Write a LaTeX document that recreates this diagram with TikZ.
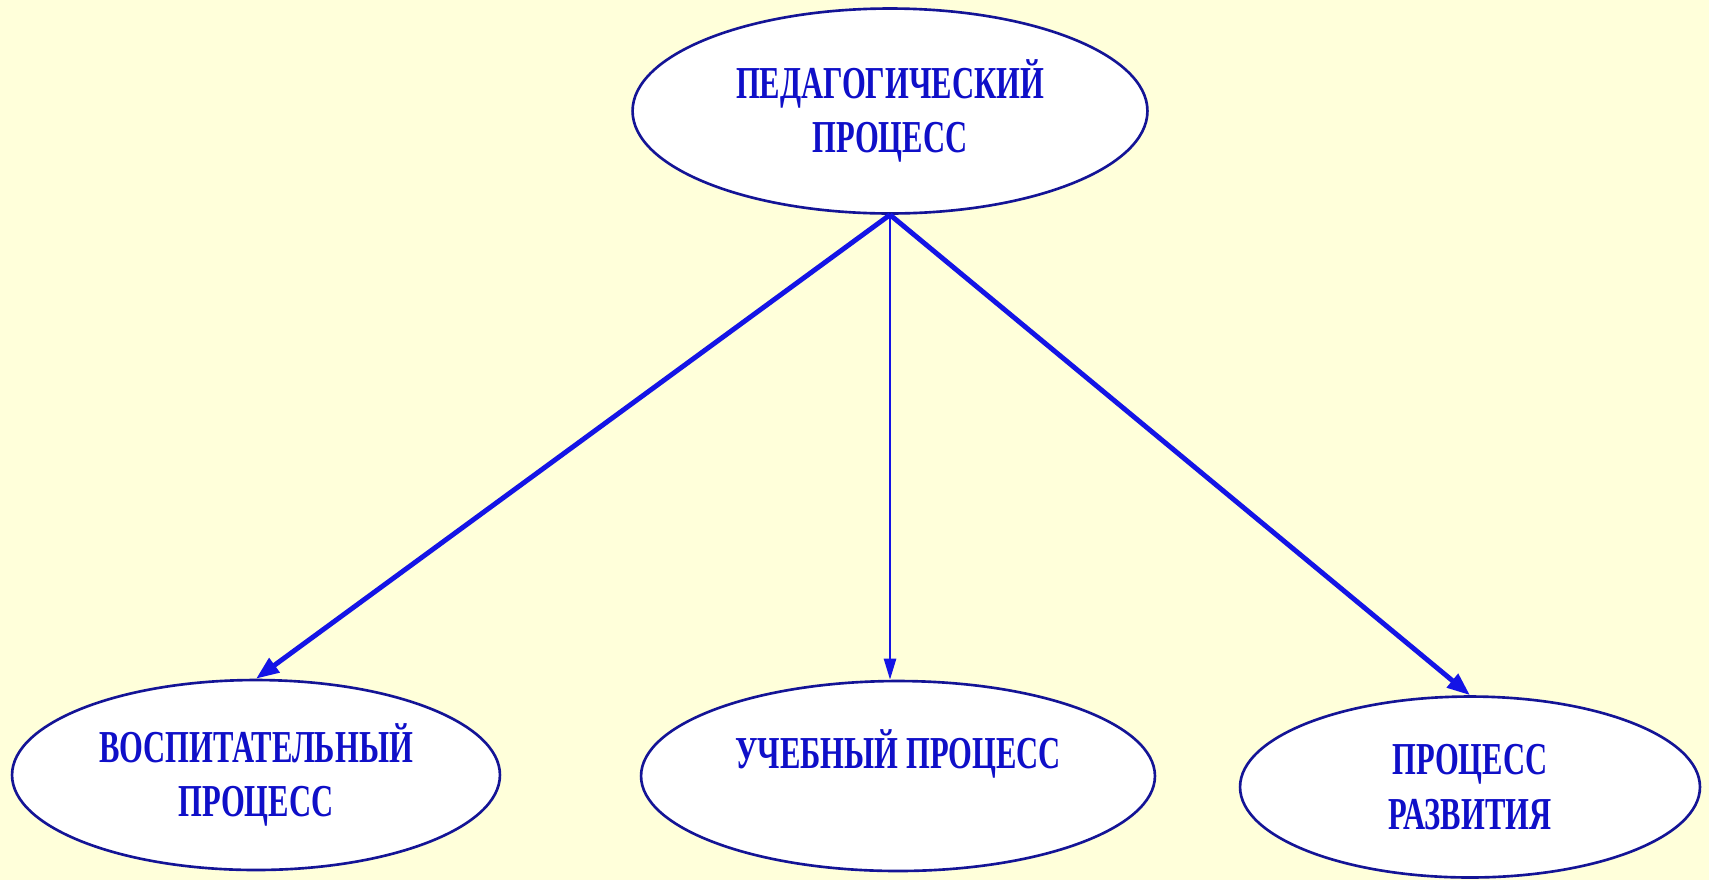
\documentclass[tikz,border=0pt]{standalone}
\usepackage{fontspec}
\newfontfamily\narrowserif[FakeStretch=0.67]{Liberation Serif}
\usepackage{xcolor}
\usepackage{tikz}
\usetikzlibrary{shapes.geometric, arrows.meta, positioning}

\definecolor{paper}{RGB}{255,255,218}
\definecolor{rim}{RGB}{20,20,150}
\definecolor{ink}{RGB}{15,15,200}
\definecolor{wire}{RGB}{20,20,230}

\begin{document}
\begin{tikzpicture}[x=0.02cm, y=-0.02cm, >={Triangle[length=0.46cm, width=0.34cm]}]
    \tikzstyle{proc} = [ellipse, draw=rim, fill=white, line width=1.5pt, inner sep=0pt, align=center, text=ink, font=\narrowserif\bfseries\fontsize{26pt}{31pt}\selectfont]
    \tikzstyle{link} = [->, draw=wire, fill=wire, line width=2.8pt]

    % Page
    \fill[paper] (0,0) rectangle (1709,880);
    \useasboundingbox (0,0) rectangle (1709,880);

    % Ellipses
    \node (ped) [proc, minimum width=10.3cm, minimum height=4.1cm] at (890,111) {ПЕДАГОГИЧЕСКИЙ\\ПРОЦЕСС};
    \node (vosp) [proc, minimum width=9.76cm, minimum height=3.8cm] at (256,775) {ВОСПИТАТЕЛЬНЫЙ\\ПРОЦЕСС};
    \node (ucheb) [proc, minimum width=10.28cm, minimum height=3.8cm] at (898,776) {УЧЕБНЫЙ ПРОЦЕСС\\\mbox{}};
    \node (razv) [proc, minimum width=9.2cm, minimum height=3.62cm] at (1470,787) {ПРОЦЕСС\\РАЗВИТИЯ};

    % Arrows (all leave the bottom of the top ellipse)
    \draw[link] (ped.south) -- (vosp.north);
    \draw[link, line width=1.4pt, -{Triangle[length=0.42cm, width=0.24cm]}] (ped.south) -- (ped.south |- ucheb.north);
    \draw[link] (ped.south) -- (razv.north);
\end{tikzpicture}
\end{document}
